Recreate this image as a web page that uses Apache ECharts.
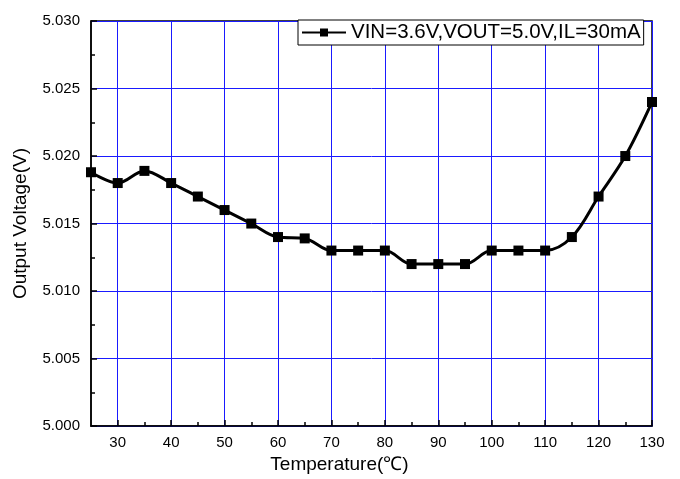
<!DOCTYPE html>
<html><head><meta charset="utf-8">
<script src="https://cdn.jsdelivr.net/npm/echarts@6/dist/echarts.min.js"></script>
<style>html,body{margin:0;padding:0;background:#fff;overflow:hidden;width:100%;height:100%}#c{width:680px;height:479px}</style>
</head><body><div id="c"></div>
<script>
const temperatures = [25,30,35,40,45,50,55,60,65,70,75,80,85,90,95,100,105,110,115,120,125,130];
const voltages = [5.0188,5.0180,5.0189,5.0180,5.0170,5.0160,5.0150,5.0140,5.0139,5.0130,5.0130,5.0130,5.0120,5.0120,5.0120,5.0130,5.0130,5.0130,5.0140,5.0170,5.0200,5.0240];
const xMajorTicks = [30,40,50,60,70,80,90,100,110,120,130];
const xMinorTicks = [35,45,55,65,75,85,95,105,115,125];
const seriesName = 'VIN=3.6V,VOUT=5.0V,IL=30mA';

const chart = echarts.init(document.getElementById('c'));
const lblFont = {color:'#000', fontFamily:'Arial', fontSize:15};
chart.setOption({
  animation:false,
  grid:{left:91,right:28,top:21,bottom:49,show:true,borderColor:'#000',borderWidth:1.5,backgroundColor:'transparent'},
  legend:{
    data:[seriesName], left:298, top:20, padding:[2,3,2,3], itemWidth:44, itemHeight:10, itemGap:4,
    borderColor:'#000', borderWidth:1, backgroundColor:'#fff',
    textStyle:{fontFamily:'Arial', fontSize:20.5, color:'#000'}
  },
  xAxis:[{
    type:'value', min:25, max:130, position:'bottom',
    name:'Temperature(℃)', nameLocation:'middle', nameGap:27,
    nameTextStyle:{fontFamily:'Arial', fontSize:19, color:'#000', padding:[0,64,0,0]},
    axisLine:{show:true,onZero:false,lineStyle:{color:'#000',width:1.5}},
    axisTick:{show:true,inside:true,length:6,customValues:xMajorTicks,lineStyle:{color:'#000',width:1.5}},
    axisLabel:{...lblFont, margin:9, customValues:xMajorTicks},
    splitLine:{show:true,lineStyle:{color:'#1a1aff',width:1}},
    z:1
  },{
    type:'value', min:25, max:130, position:'bottom', gridIndex:0,
    axisLine:{show:false},
    axisTick:{show:true,inside:true,length:4,customValues:xMinorTicks,lineStyle:{color:'#000',width:1.5}},
    axisLabel:{show:false},
    splitLine:{show:false}
  }],
  yAxis:{
    type:'value', min:5.000, max:5.030, interval:0.005,
    name:'Output Voltage(V)', nameLocation:'middle', nameGap:61, nameRotate:90,
    nameTextStyle:{fontFamily:'Arial', fontSize:19, color:'#000'},
    axisLine:{show:true,onZero:false,lineStyle:{color:'#000',width:1.5}},
    axisTick:{show:true,inside:true,length:6,lineStyle:{color:'#000',width:1.5}},
    minorTick:{show:true,splitNumber:2,length:4,lineStyle:{color:'#000',width:1.5}},
    axisLabel:{...lblFont, margin:11, formatter:v=>v.toFixed(3)},
    splitLine:{show:true,lineStyle:{color:'#1a1aff',width:1}}
  },
  series:[{
    name:seriesName, type:'line', xAxisIndex:0,
    data:temperatures.map((t,i)=>[t,voltages[i]]),
    smooth:0.35, symbol:'rect', symbolSize:10,
    lineStyle:{color:'#000',width:3}, itemStyle:{color:'#000'},
    z:3
  }]
});
</script></body></html>
